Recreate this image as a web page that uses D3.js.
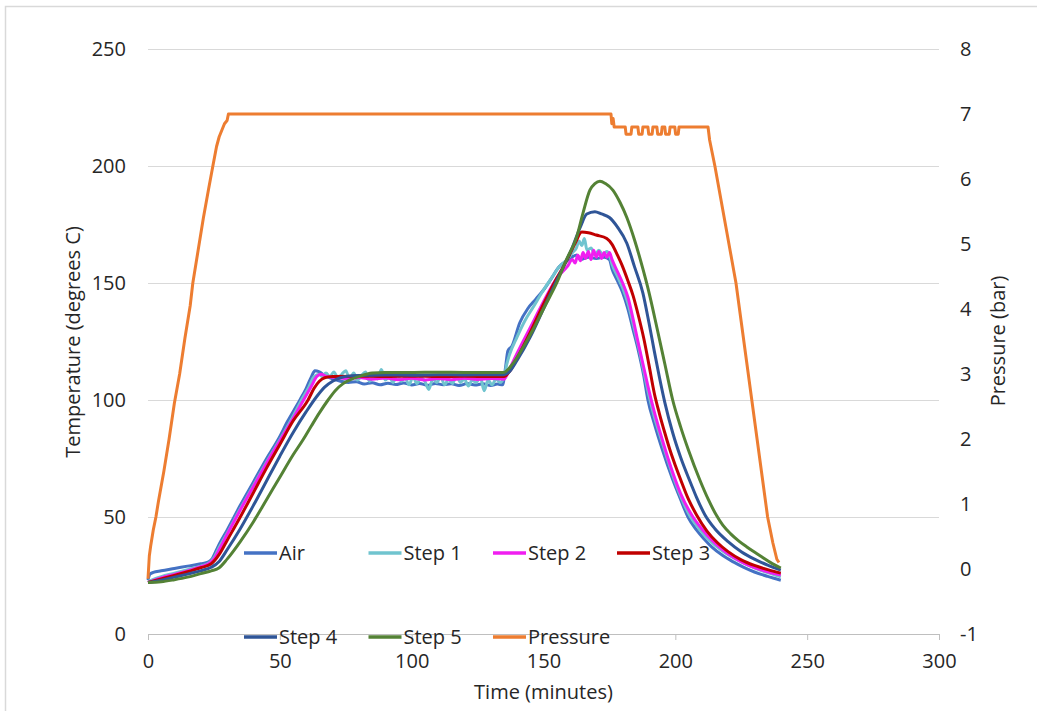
<!DOCTYPE html>
<html>
<head>
<meta charset="utf-8">
<script src="https://cdn.jsdelivr.net/npm/d3@7"></script>
<style>
  body { margin: 0; background: #fff; }
  svg { font-family: "Open Sans", sans-serif; }
</style>
</head>
<body>
<svg width="1037" height="711"></svg>
<script>
// temperature series: [minutes, degrees C]
var air = [[0,23],[0.7,25.5],[2,26.3],[5,27],[10,28],[15,29],[20,30],[23,30.8],[24.5,32.5],[26,36],[27.3,39],[30,44.4],[35,55],[40,65],[45,75],[49.3,83],[53,91],[57.6,100],[60,105],[62,110],[63.3,112.5],[65,112],[67,110.5],[70,109],[73,108],[76,107.5],[79,107.8],[82,106.8],[85,107.4],[88,106.5],[91,107.2],[94,106.6],[97,107.3],[100,106.4],[103,107],[106,106.3],[109,107.1],[112,106.5],[115,106.9],[118,106.2],[121,107],[124,106.4],[127,106.9],[130,106.2],[132.5,106.8],[134.5,106.5],[135.5,113],[136.5,121],[138,123],[141,133],[144,139],[147,143],[150,147],[153,152],[156,157],[159,159.5],[162.6,162],[164,160],[167,161],[170,160.5],[173,161],[175,160],[176,156],[178,151],[180,146],[182,139],[184,130],[186,121],[188,110.5],[189.6,100],[192,90],[195,79],[199,66],[202,57.5],[204.8,50],[208,44.5],[211,40.5],[214,37],[218,33.5],[222,30.8],[225.6,28.7],[230,26.5],[235,24.6],[240,23]];

var step1 = [[0,22.5],[5,24.5],[10,26],[15,27.5],[20,29],[23,30.2],[25,32.5],[27,37],[30,43],[35,53.5],[40,63.5],[45,73.5],[50,83],[55,93],[58,99.5],[61,105.5],[63,110],[65,111],
  [66,110],[67.5,111.5],[69,110],[70.5,112],[72,109.5],[73.5,111],[75,112.5],[76.5,109],[78,111.5],[79.5,108.5],[81,110.5],[82.5,112],[84,108],[85.5,110.5],[87,109],[88.5,113],[90,108.5],[91.5,110],[93,107.5],[94.5,111],[96,108],[97.5,109.5],[99,106.5],[100.5,110],[102,107],[103.5,109.5],[105,108],[106.5,104.5],[108,109],[109.5,107.5],[111,110],[112.5,106.5],[114,109],[115.5,107],[117,110.5],[118.5,107.5],[120,109],[121.5,106],[123,108.5],[124.5,107.5],[126,110],[127.5,104],[129,108.5],[130.5,106.5],[132,109],[133.5,107.5],[135,109.5],
  [136,115],[137,119],[140,127],[143,134],[146,139.5],[150,147],[153,152],[156,157],[159,160],[161,163],[162.5,165],[163.5,168],[164.5,166],[165.5,169],[166.5,164],[168,165],[169.5,162],[171,164],[172.5,162],[174,163.5],[175,162],[176,158],[178,153],[180,148],[182,141.5],[184,132.5],[186,123],[188,112.5],[190,102],[192,93],[195,82],[199,68],[202,59],[205.5,50.5],[209,45],[213,40],[217,36.2],[221,33.2],[225,30.8],[230,28.3],[235,26.2],[240,24.4]];

var step2 = [[0,22],[5,24],[10,25.5],[15,27],[20,28.8],[23,30],[25,32],[27,36],[30,42.5],[35,53],[40,63],[45,73],[50,82.5],[55,92],[59,100],[62,106],[64,110],[65.5,111],[68,110],[72,109.5],[76,109.2],[80,109.6],[85,108.9],[90,109.4],[95,108.7],[100,109.3],[105,108.6],[110,109.2],[115,108.7],[120,109.3],[125,108.8],[130,109.2],[135,108.9],[137,113],[140,120],[145,131],[150,142],[155,152],[159,157],[161,160],[162,158.5],[163,162],[164,159.5],[165,163],[166,160.5],[167,163.5],[168,160],[169,164],[170,161],[171,163.5],[172,160.5],[173,163],[174,161],[175,163],[176,160],[178,155],[180,150],[182,144],[184,134.5],[186,124],[188,114],[190,104],[192,95],[194,87],[196,79.5],[199,69],[202,60],[206.7,50],[210,45],[214,40],[218,36],[222,32.8],[226,30.3],[230,28.4],[235,26.6],[240,25.2]];

var step3 = [[0,22],[5,23.5],[10,25],[15,26.6],[20,28.3],[24,30],[27,34],[30,40],[35,50],[40,60.5],[45,71],[50,81],[55,91],[60.7,100],[63,105],[65,108],[67,109.5],[70,110],[80,110.2],[90,110],[100,110.2],[110,110],[120,110.1],[130,110],[135,110],[137,112],[140,118],[145,129],[150,141],[155,152],[159,160],[162,167],[164.5,171.8],[167,171.5],[170,170.5],[174,169],[176,166.5],[178,162],[180,157],[182,151],[184,144.5],[186,136],[188,126.5],[190,115],[192,103],[194,94],[196,86],[198,78.5],[200,72],[202,66],[205,57.5],[208,51],[212,44],[216,39],[220,35.2],[225,31.7],[230,29.3],[235,27.5],[240,26]];

var step4 = [[0,22],[5,23],[10,24.3],[15,25.6],[20,27],[24,28.5],[27,31],[30,36],[35,45],[40,55],[45,65.5],[50,76],[55,86],[60,95],[64,101.5],[67,105.5],[70,108],[73,109.5],[76,110.2],[80,110.5],[90,110.7],[100,110.6],[110,110.8],[120,110.7],[130,110.8],[135,110.8],[137,112],[140,117],[145,127],[150,139],[155,151],[158,158],[161,165.4],[164,174],[166.4,179.5],[169.5,180.5],[172,179.5],[175,178],[178,174],[181.6,167],[184.5,157],[187.7,145.7],[190,133],[192,121],[194,109.5],[196,99],[199,86],[202,75.5],[206,64],[208,58.5],[211.2,51],[215,45],[220,39.5],[225,35.2],[230,32],[235,29.4],[240,27.3]];

var step5 = [[0,22],[5,22.3],[10,23.2],[15,24.3],[20,25.8],[24,27],[27,28.3],[30,32],[35,39.5],[40,48],[45,57.5],[50,67],[55,76.5],[58.8,83],[62,89],[65,94.5],[68.3,100],[71,104],[74,107],[77,108.8],[80,110],[85,111.5],[90,111.8],[100,111.8],[110,111.9],[120,111.8],[135,111.8],[138,115],[142,122],[146,130],[150,139],[155,150],[158.5,159.5],[162.6,169.7],[165,180],[167.6,189.7],[169.5,192.5],[171.4,193.5],[173.5,192.5],[176.3,189.7],[179,184.5],[181.6,178],[184.5,168.5],[187.7,156],[190,146],[193,131],[196,115.5],[199,100],[202,88.5],[205,78.5],[209.3,65.8],[212.5,57.5],[215.7,50.5],[218,46.5],[221,42.8],[224,39.8],[227,37.3],[230,35],[233,32.8],[236,30.6],[240,28.2]];

// pressure: [minutes, bar]
var pressure = [[0,-0.15],[0.5,0.2],[1,0.35],[2,0.6],[3,0.8],[4,1.05],[6,1.5],[8,2.0],[10,2.55],[12,3.0],[14,3.55],[16,4.05],[17,4.4],[19,4.9],[21,5.4],[23,5.85],[24.6,6.2],[26,6.5],[27,6.65],[28,6.75],[29,6.85],[30,6.9],[30.5,7],[175.6,7],[175.9,6.85],[176.4,6.93],[176.8,6.8],[181,6.8],[181.3,6.69],[183.2,6.69],[183.5,6.8],[185.8,6.8],[186.1,6.69],[187.4,6.69],[187.7,6.8],[189.6,6.8],[189.9,6.69],[191.2,6.69],[191.5,6.8],[193,6.8],[193.3,6.69],[194.7,6.69],[195,6.8],[196,6.8],[196.3,6.69],[197.7,6.69],[198,6.8],[199.8,6.8],[200.1,6.69],[201.1,6.69],[201.4,6.8],[212.4,6.8],[213,6.6],[214,6.4],[215,6.2],[217,5.75],[219,5.3],[221,4.85],[223,4.4],[225,3.8],[227,3.2],[229,2.6],[231,2.0],[233,1.4],[235,0.8],[237,0.4],[238.5,0.15],[239.3,0.1]];

var seriesNames = ['Air', 'Step 1', 'Step 2', 'Step 3', 'Step 4', 'Step 5', 'Pressure'];
var seriesColors = ['#4472c4', '#70c4cf', '#f01ef0', '#c00000', '#2f5597', '#548235', '#ed7d31'];
var tempTicks = [0, 50, 100, 150, 200, 250];
var pressTicks = [-1, 0, 1, 2, 3, 4, 5, 6, 7, 8];
var timeTicks = [0, 50, 100, 150, 200, 250, 300];

var svg = d3.select('svg');
var plotLeft = 148, plotRight = 939, plotTop = 49, plotBottom = 634;

var x = d3.scaleLinear().domain([0, 300]).range([plotLeft, plotRight]);
var yT = d3.scaleLinear().domain([0, 250]).range([plotBottom, plotTop]);
var yP = d3.scaleLinear().domain([-1, 8]).range([plotBottom, plotTop]);

// chart border
svg.append('rect')
  .attr('x', 5.5).attr('y', 6.5)
  .attr('width', 1100).attr('height', 800)
  .attr('fill', 'none')
  .attr('stroke', '#d9d9d9')
  .attr('stroke-width', 1.5);

// gridlines
svg.append('g')
  .attr('transform', 'translate(' + plotLeft + ',0)')
  .call(d3.axisLeft(yT).tickValues(tempTicks.filter(d => d > 0)).tickSize(-(plotRight - plotLeft)).tickFormat(''))
  .call(g => g.select('.domain').remove())
  .call(g => g.selectAll('line').attr('stroke', '#d9d9d9').attr('stroke-width', 1));

// x axis
svg.append('g')
  .attr('transform', 'translate(0,' + plotBottom + ')')
  .call(d3.axisBottom(x).tickValues(timeTicks).tickSize(6).tickPadding(14))
  .call(g => g.select('.domain').attr('stroke', '#bfbfbf').attr('d', 'M' + plotLeft + ',0.5H' + plotRight))
  .call(g => g.selectAll('line').attr('stroke', '#bfbfbf'))
  .call(g => g.selectAll('text').attr('fill', '#262626').style('font-size', '20px').style('font-family', '"Open Sans", sans-serif'));

// left axis labels
svg.append('g')
  .attr('transform', 'translate(' + plotLeft + ',0)')
  .call(d3.axisLeft(yT).tickValues(tempTicks).tickSize(0).tickPadding(22))
  .call(g => g.select('.domain').remove())
  .call(g => g.selectAll('text').attr('fill', '#262626').style('font-size', '20px').style('font-family', '"Open Sans", sans-serif'));

// right axis labels (plain hyphen for negatives, like the original)
svg.append('g')
  .attr('transform', 'translate(' + plotRight + ',0)')
  .call(d3.axisRight(yP).tickValues(pressTicks).tickSize(0).tickPadding(21).tickFormat(d => String(d)))
  .call(g => g.select('.domain').remove())
  .call(g => g.selectAll('text').attr('fill', '#262626').style('font-size', '20px').style('font-family', '"Open Sans", sans-serif'));

// axis titles
svg.append('text')
  .attr('x', (plotLeft + plotRight) / 2).attr('y', 699)
  .attr('text-anchor', 'middle')
  .attr('fill', '#262626').style('font-size', '20px')
  .text('Time (minutes)');

svg.append('text')
  .attr('transform', 'translate(80,342) rotate(-90)')
  .attr('text-anchor', 'middle')
  .attr('fill', '#262626').style('font-size', '20px')
  .text('Temperature (degrees C)');

svg.append('text')
  .attr('transform', 'translate(1005,341) rotate(-90)')
  .attr('text-anchor', 'middle')
  .attr('fill', '#262626').style('font-size', '20px')
  .text('Pressure (bar)');

// lines
var tempLine = d3.line()
  .x(d => x(d[0]))
  .y(d => yT(d[1]))
  .curve(d3.curveMonotoneX);

var pressLine = d3.line()
  .x(d => x(d[0]))
  .y(d => yP(d[1]));

var tempSeries = [air, step1, step2, step3, step4, step5];

svg.append('g')
  .selectAll('path')
  .data(tempSeries)
  .enter()
  .append('path')
  .attr('d', tempLine)
  .attr('fill', 'none')
  .attr('stroke', (d, i) => seriesColors[i])
  .attr('stroke-width', 3)
  .attr('stroke-linejoin', 'round');

svg.append('path')
  .datum(pressure)
  .attr('d', pressLine)
  .attr('fill', 'none')
  .attr('stroke', seriesColors[6])
  .attr('stroke-width', 3)
  .attr('stroke-linejoin', 'round');

// legend
var legendX = [244, 368.5, 493, 617];
var legendY = [553, 637];

var legend = svg.append('g')
  .selectAll('g')
  .data(seriesNames)
  .enter()
  .append('g')
  .attr('transform', (d, i) => 'translate(' + legendX[i % 4] + ',' + legendY[Math.floor(i / 4)] + ')');

legend.append('line')
  .attr('x1', 0).attr('x2', 33)
  .attr('y1', 0).attr('y2', 0)
  .attr('stroke', (d, i) => seriesColors[i])
  .attr('stroke-width', 3.5);

legend.append('text')
  .attr('x', 35).attr('y', 0).attr('dy', '0.35em')
  .attr('fill', '#262626').style('font-size', '20px')
  .text(d => d);
</script>
</body>
</html>
